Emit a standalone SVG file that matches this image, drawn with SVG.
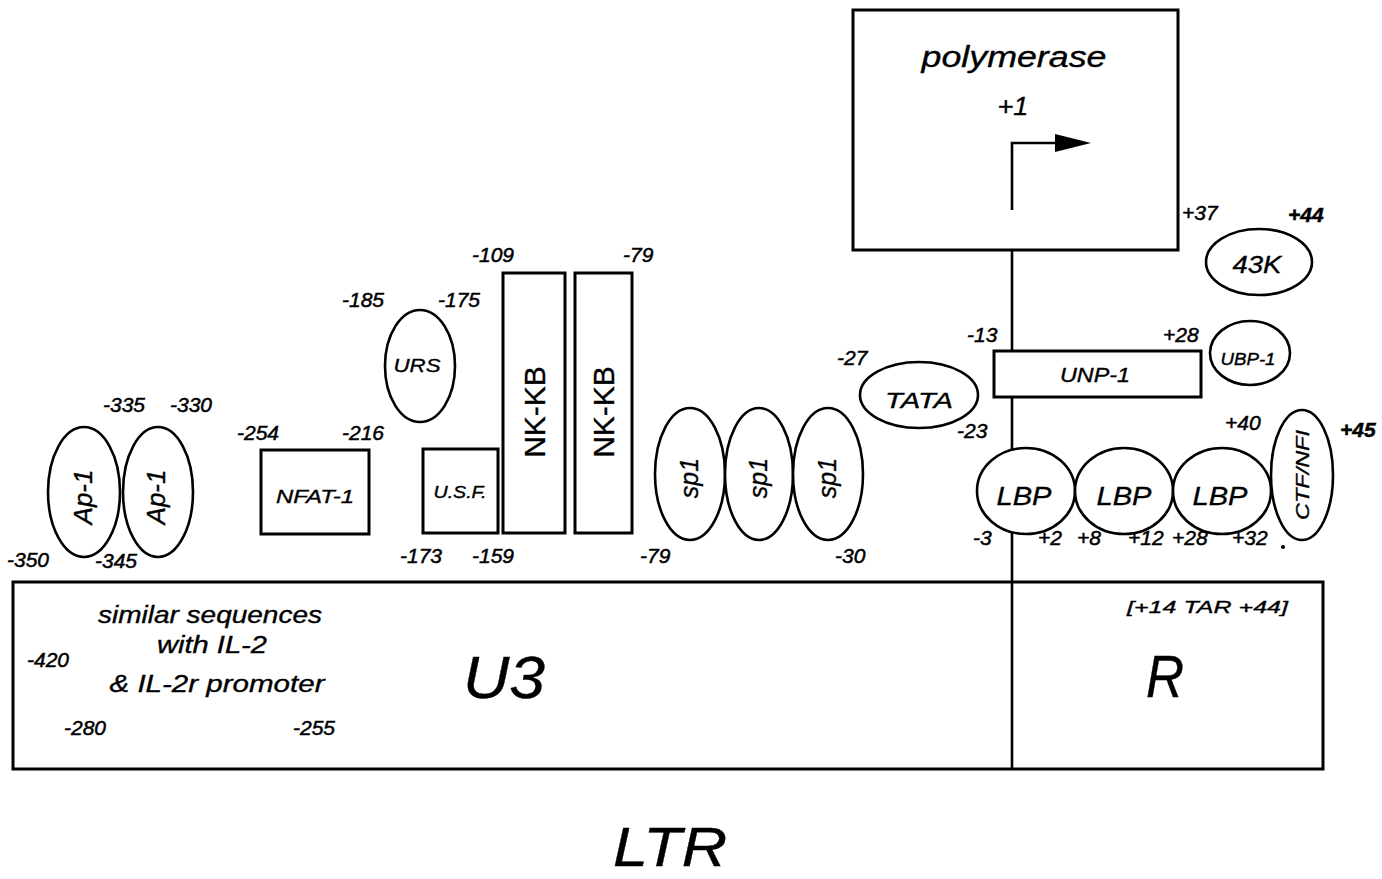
<svg xmlns="http://www.w3.org/2000/svg" width="1382" height="879" viewBox="0 0 1382 879">
<style>
text{font-family:"Liberation Sans",Arial,Helvetica,sans-serif;font-style:italic;fill:#000;stroke:#000;stroke-width:0.35}
.n{font-size:21px;stroke-width:0.5}
.b{font-weight:bold}
.up{font-style:normal}
.sh{fill:#fff;stroke:#000;stroke-width:3}
.el{fill:#fff;stroke:#000;stroke-width:2.6}
.ln{fill:none;stroke:#000;stroke-width:2.6}
.c{text-anchor:middle}
</style>
<rect width="1382" height="879" fill="#fff"/>

<g id="connectors">
<line class="ln" x1="1012" y1="250" x2="1012" y2="582"/>
</g>

<g id="ltr-box">
<rect class="sh" x="13" y="582" width="1310" height="187"/>
<line class="ln" x1="1012" y1="582" x2="1012" y2="769"/>
<text x="210" y="623" class="c" font-size="24" textLength="224" lengthAdjust="spacingAndGlyphs">similar sequences</text>
<text x="212" y="653" class="c" font-size="24" textLength="110" lengthAdjust="spacingAndGlyphs">with IL-2</text>
<text x="217" y="692" class="c" font-size="24" textLength="215" lengthAdjust="spacingAndGlyphs">&amp; IL-2r promoter</text>
<text x="27" y="667" class="n">-420</text>
<text x="64" y="735" class="n">-280</text>
<text x="293" y="735" class="n">-255</text>
<text x="463" y="698" font-size="60" textLength="82" lengthAdjust="spacingAndGlyphs">U3</text>
<text x="1146" y="697" font-size="60" textLength="38" lengthAdjust="spacingAndGlyphs">R</text>
<text x="1127" y="613" font-size="17" textLength="161" lengthAdjust="spacingAndGlyphs">[+14  TAR  +44]</text>
</g>

<g id="polymerase">
<rect class="sh" x="853" y="10" width="325" height="240"/>
<text x="1014" y="67" class="c" font-size="29" textLength="185" lengthAdjust="spacingAndGlyphs">polymerase</text>
<text x="1013" y="115" class="c" font-size="26" textLength="31" lengthAdjust="spacingAndGlyphs">+1</text>
<path class="ln" d="M1012,210 V143 H1060"/>
<polygon points="1055,134 1091,143 1055,152" fill="#000"/>
</g>

<g id="ap1-a">
<ellipse class="el" cx="84" cy="492" rx="36" ry="65"/>
<text transform="translate(92,497) rotate(-90)" class="c" font-size="26">Ap-1</text>
</g>
<g id="ap1-b">
<ellipse class="el" cx="158" cy="492" rx="35" ry="65"/>
<text transform="translate(165,497) rotate(-90)" class="c" font-size="26">Ap-1</text>
</g>
<g id="ap1-labels">
<text x="7" y="567" class="n">-350</text>
<text x="95" y="568" class="n">-345</text>
<text x="103" y="412" class="n">-335</text>
<text x="170" y="412" class="n">-330</text>
</g>

<g id="nfat1">
<rect class="sh" x="261" y="450" width="108" height="84"/>
<text x="315" y="503" class="c" font-size="19" textLength="78" lengthAdjust="spacingAndGlyphs">NFAT-1</text>
<text x="237" y="440" class="n">-254</text>
<text x="342" y="440" class="n">-216</text>
</g>

<g id="urs">
<ellipse class="el" cx="420" cy="366" rx="35" ry="56"/>
<text x="417" y="372" class="c" font-size="19" textLength="47" lengthAdjust="spacingAndGlyphs">URS</text>
<text x="342" y="307" class="n">-185</text>
<text x="438" y="307" class="n">-175</text>
</g>

<g id="usf">
<rect class="sh" x="423" y="449" width="75" height="84"/>
<text x="460" y="498" class="c" font-size="16" textLength="53" lengthAdjust="spacingAndGlyphs">U.S.F.</text>
<text x="400" y="563" class="n">-173</text>
<text x="472" y="563" class="n">-159</text>
</g>

<g id="nkkb-a">
<rect class="sh" x="503" y="273" width="62" height="260"/>
<text transform="translate(545,412) rotate(-90)" class="c up" font-size="30">NK-KB</text>
</g>
<g id="nkkb-b">
<rect class="sh" x="575" y="273" width="57" height="260"/>
<text transform="translate(614,412) rotate(-90)" class="c up" font-size="30">NK-KB</text>
</g>
<g id="nkkb-labels">
<text x="472" y="262" class="n">-109</text>
<text x="623" y="262" class="n">-79</text>
</g>

<g id="sp1-a">
<ellipse class="el" cx="690" cy="474" rx="35" ry="66"/>
<text transform="translate(698,478) rotate(-90)" class="c" font-size="25">sp1</text>
</g>
<g id="sp1-b">
<ellipse class="el" cx="759" cy="474" rx="34" ry="66"/>
<text transform="translate(767,478) rotate(-90)" class="c" font-size="25">sp1</text>
</g>
<g id="sp1-c">
<ellipse class="el" cx="828" cy="474" rx="35" ry="66"/>
<text transform="translate(836,478) rotate(-90)" class="c" font-size="25">sp1</text>
</g>
<g id="sp1-labels">
<text x="640" y="563" class="n">-79</text>
<text x="835" y="563" class="n">-30</text>
</g>

<g id="tata">
<ellipse class="el" cx="919" cy="395" rx="59" ry="33"/>
<text x="919" y="408" class="c" font-size="22" textLength="68" lengthAdjust="spacingAndGlyphs">TATA</text>
<text x="837" y="365" class="n">-27</text>
<text x="957" y="438" class="n">-23</text>
</g>

<g id="unp1">
<rect class="sh" x="994" y="351" width="207" height="46"/>
<text x="1095" y="382" class="c" font-size="20" textLength="70" lengthAdjust="spacingAndGlyphs">UNP-1</text>
<text x="967" y="342" class="n">-13</text>
<text x="1163" y="342" class="n">+28</text>
</g>

<g id="ubp1">
<ellipse class="el" cx="1250" cy="353" rx="40" ry="32"/>
<text x="1248" y="365" class="c" font-size="16" textLength="55" lengthAdjust="spacingAndGlyphs">UBP-1</text>
</g>

<g id="k43">
<ellipse class="el" cx="1259" cy="262" rx="53" ry="33"/>
<text x="1257" y="273" class="c" font-size="23" textLength="49" lengthAdjust="spacingAndGlyphs">43K</text>
<text x="1182" y="220" class="n">+37</text>
<text x="1288" y="222" class="n b">+44</text>
</g>

<g id="lbp-a">
<ellipse class="el" cx="1026" cy="491" rx="49" ry="43"/>
<text x="1024" y="505" class="c" font-size="25" textLength="55" lengthAdjust="spacingAndGlyphs">LBP</text>
</g>
<g id="lbp-b">
<ellipse class="el" cx="1124" cy="491" rx="49" ry="43"/>
<text x="1124" y="505" class="c" font-size="25" textLength="55" lengthAdjust="spacingAndGlyphs">LBP</text>
</g>
<g id="lbp-c">
<ellipse class="el" cx="1222" cy="491" rx="49" ry="43"/>
<text x="1220" y="505" class="c" font-size="25" textLength="55" lengthAdjust="spacingAndGlyphs">LBP</text>
</g>
<g id="lbp-labels">
<text x="973" y="545" class="n">-3</text>
<text x="1038" y="545" class="n">+2</text>
<text x="1077" y="545" class="n">+8</text>
<text x="1128" y="545" class="n">+12</text>
<text x="1172" y="545" class="n">+28</text>
<text x="1232" y="545" class="n">+32</text>
</g>

<g id="ctf-nfi">
<ellipse class="el" cx="1302" cy="475" rx="31" ry="65"/>
<text transform="translate(1309,475) rotate(-90)" class="c" font-size="19" textLength="90" lengthAdjust="spacingAndGlyphs">CTF/NFI</text>
<text x="1225" y="430" class="n">+40</text>
<text x="1340" y="437" class="n b">+45</text>
<circle cx="1283" cy="547" r="2" fill="#000"/>
</g>

<g id="title">
<text x="613" y="866" font-size="56" textLength="114" lengthAdjust="spacingAndGlyphs">LTR</text>
</g>
</svg>
